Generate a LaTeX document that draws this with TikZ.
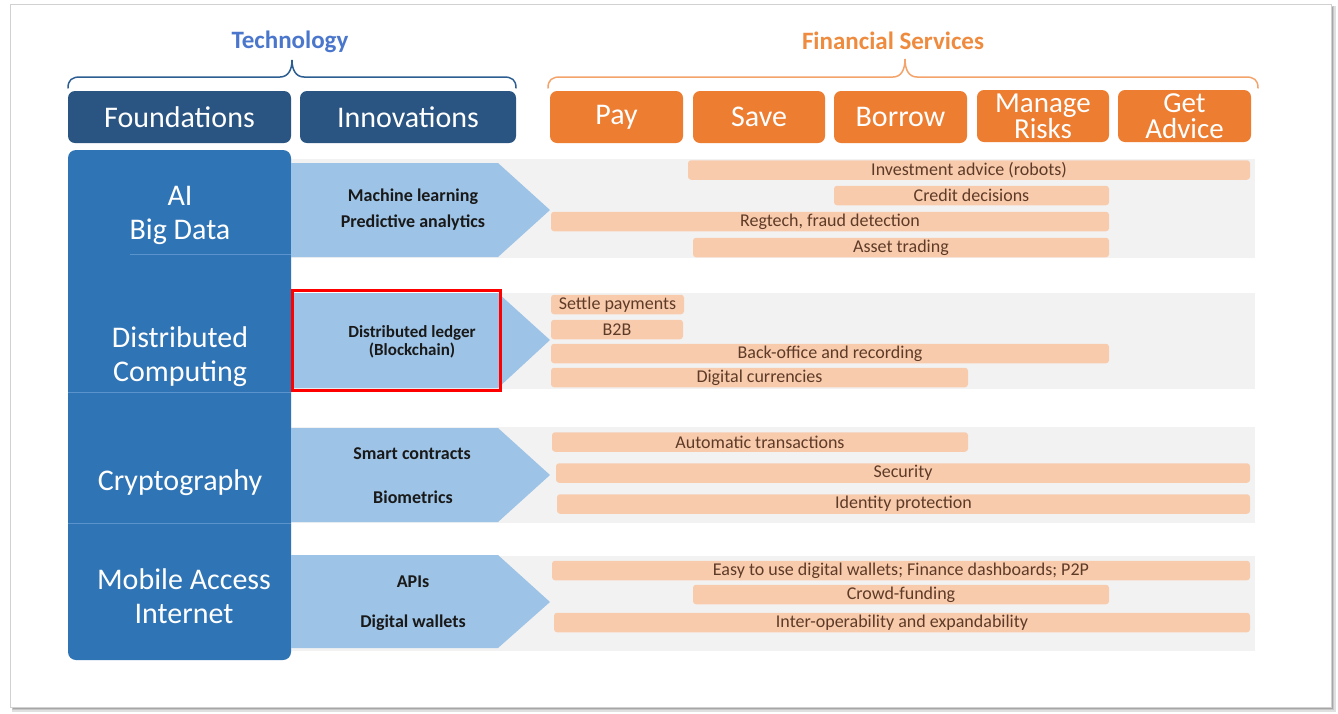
\documentclass[tikz,border=0pt]{standalone}
\usepackage{fontspec}
\setmainfont{Carlito}
\definecolor{techblue}{HTML}{4A76CC}
\definecolor{navy}{HTML}{2A5582}
\definecolor{colblue}{HTML}{2F74B5}
\definecolor{divblue}{HTML}{5B93CC}
\definecolor{arrowblue}{HTML}{9DC3E6}
\definecolor{svcorange}{HTML}{ED7D31}
\definecolor{fstext}{HTML}{EE8B3E}
\definecolor{bracebl}{HTML}{2D5E91}
\definecolor{braceor}{HTML}{F4A46A}
\definecolor{peach}{HTML}{F8CBAD}
\definecolor{band}{HTML}{F2F2F2}
\definecolor{bartext}{HTML}{5E3B27}
\begin{document}
\begin{tikzpicture}[x=1pt,y=-1pt,
  heading/.style={font=\bfseries\fontsize{25}{25}\selectfont, inner sep=0pt},
  hdrbox/.style={rounded corners=7pt, text=white, inner sep=0pt, minimum height=52pt,
    align=center, font=\fontsize{30}{25}\selectfont},
  navybox/.style={hdrbox, fill=navy},
  svcbox/.style={hdrbox, fill=svcorange},
  svctwo/.style={svcbox, font=\fontsize{29}{25}\selectfont},
  collabel/.style={text=white, align=center, inner sep=0pt, font=\fontsize{30}{34}\selectfont},
  innlabel/.style={text=black!90, align=center, inner sep=0pt, font=\bfseries\fontsize{18}{18}\selectfont},
  bar/.style={fill=peach, rounded corners=3pt, minimum height=19.5pt, inner sep=0pt,
    text=bartext, font=\fontsize{18}{18}\selectfont},
  bandrect/.style={fill=band},
  arrowshape/.style={fill=arrowblue},
  brace/.style={line width=1.5pt, line cap=round}]
\useasboundingbox (0,0) rectangle (1338,713);

% page frame with a soft shadow
\fill[black!12] (12,6) rectangle (1336,712);
\fill[black!22] (12,6) rectangle (1334,710);
\fill[black!35] (13,7) rectangle (1333,709);
\filldraw[draw=black!18, line width=0.8pt, fill=white] (10,4) rectangle (1331,707);

% group headings and braces
\node[heading, text=techblue] (tech) at (290,42) {Technology};
\node[heading, text=fstext] (fin) at (893,41) {Financial Services};
\draw[brace, bracebl] (68,88) .. controls (68,80) and (72,77) .. (80,77) -- (280,77)
  .. controls (288,77) and (292,70) .. (292,60)
  .. controls (292,70) and (296,77) .. (304,77) -- (504,77)
  .. controls (512,77) and (516,80) .. (516,88);
\draw[brace, braceor] (548,88) .. controls (548,80) and (552,77) .. (560,77) -- (893,77)
  .. controls (901,77) and (905,70) .. (905,59)
  .. controls (905,70) and (909,77) .. (917,77) -- (1246,77)
  .. controls (1254,77) and (1258,80) .. (1258,88);

% column headers
\node[navybox, minimum width=223pt] (found) at (179.5,117) {Foundations};
\node[navybox, minimum width=216pt] (innov) at (408,117) {Innovations};
\node[svcbox, minimum width=133pt] (pay) at (616.5,117) {Pay};
\node[svcbox, minimum width=132pt] (save) at (759,117) {Save};
\node[svcbox, minimum width=133pt] (borrow) at (900.5,117) {Borrow};
\node[svctwo, minimum width=132pt] (manage) at (1043,116) {Manage\\Risks};
\node[svctwo, minimum width=133pt, font=\fontsize{29}{26.5}\selectfont] (advice) at (1184.5,116) {Get\\Advice};

% grey bands behind each row
\fill[bandrect] (291,159) rectangle (1255,258);
\fill[bandrect] (291,293) rectangle (1255,389);
\fill[bandrect] (291,427) rectangle (1255,523);
\fill[bandrect] (291,556) rectangle (1255,651);

% foundations column
\fill[colblue, rounded corners=8pt] (68,150) rectangle (291,660);
\draw[divblue, line width=0.8pt] (130,254) -- (291,254);
\draw[divblue, line width=0.8pt] (68,392) -- (291,392);
\draw[divblue, line width=0.8pt] (68,523) -- (291,523);
\node[collabel] (ai) at (180,215) {AI\\Big Data};
\node[collabel] (dc) at (180,357) {Distributed\\Computing};
\node[collabel] (crypto) at (180,483) {Cryptography};
\node[collabel] (mobile) at (184,596) {Mobile Access\\Internet};

% innovation arrows
\fill[arrowshape] (291,163) -- (498,163) -- (550,210) -- (498,257) -- (291,257) -- cycle;
\fill[arrowshape] (291,293) -- (498,293) -- (550,340) -- (498,388) -- (291,388) -- cycle;
\fill[arrowshape] (291,428) -- (498,428) -- (550,475) -- (498,522) -- (291,522) -- cycle;
\fill[arrowshape] (291,555) -- (498,555) -- (550,602) -- (498,648) -- (291,648) -- cycle;
\draw[red, line width=3pt] (292.5,290) rectangle (500.5,390);

\node[innlabel] (ml) at (413,197) {Machine learning};
\node[innlabel] (pa) at (413,223) {Predictive analytics};
\node[innlabel, font=\bfseries\fontsize{17}{18}\selectfont] (dl) at (412,342) {Distributed ledger\\(Blockchain)};
\node[innlabel] (sc) at (412,454) {Smart contracts};
\node[innlabel] (bio) at (413,497) {Biometrics};
\node[innlabel] (api) at (413,582) {APIs};
\node[innlabel] (dw) at (413,623) {Digital wallets};

% financial service bars
\node[bar, minimum width=562pt] (inv) at (969,170) {Investment advice (robots)};
\node[bar, minimum width=275pt] (credit) at (971.5,195.5) {Credit decisions};
\node[bar, minimum width=558pt] (reg) at (830,221.5) {Regtech, fraud detection};
\node[bar, minimum width=416pt] (asset) at (901,247.5) {Asset trading};

\node[bar, minimum width=133pt] (settle) at (617.5,304.5) {Settle payments};
\node[bar, minimum width=132pt] (btob) at (617,329.5) {B2B};
\node[bar, minimum width=558pt] (back) at (830,353.5) {Back-office and recording};
\node[bar, minimum width=417pt] (dcur) at (759.5,377.5) {Digital currencies};

\node[bar, minimum width=416pt] (auto) at (760,442) {Automatic transactions};
\node[bar, minimum width=694pt] (sec) at (903,473) {Security};
\node[bar, minimum width=693pt] (idp) at (903.5,504) {Identity protection};

\node[bar, minimum width=698pt] (easy) at (901,570.5) {Easy to use digital wallets; Finance dashboards; P2P};
\node[bar, minimum width=416pt] (crowd) at (901,594.5) {Crowd-funding};
\node[bar, minimum width=696pt] (inter) at (902,622.5) {Inter-operability and expandability};
\end{tikzpicture}
\end{document}
